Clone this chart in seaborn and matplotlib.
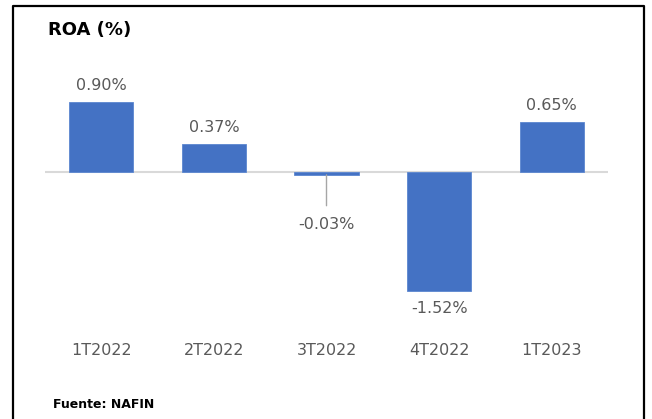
import matplotlib
matplotlib.use("Agg")
import matplotlib.pyplot as plt
from matplotlib.lines import Line2D
import seaborn as sns
import pandas as pd

categories = ["1T2022", "2T2022", "3T2022", "4T2022", "1T2023"]
roa_values = [0.90, 0.37, -0.03, -1.52, 0.65]
value_labels = ["0.90%", "0.37%", "-0.03%", "-1.52%", "0.65%"]
title_text = "ROA (%)"
source_text = "Fuente: NAFIN"

sns.set_theme(style="white")
plt.rcParams["font.family"] = ["DejaVu Sans"]

W, H = 652, 419
fig = plt.figure(figsize=(W / 100, H / 100), dpi=100)
fig.patch.set_facecolor("white")

ax = fig.add_axes([45 / W, 1 - 335 / H, (608 - 45) / W, (335 - 60) / H])

df = pd.DataFrame({"cat": categories, "val": roa_values})
sns.barplot(data=df, x="cat", y="val", color="#4472C4", saturation=1,
            width=0.57, ax=ax, edgecolor="#5b86d0", linewidth=0.6)

ax.set_ylim(-2.089, 1.446)
ax.set_xlim(-0.5, len(categories) - 0.5)
ax.axhline(0, color="#d9d9d9", lw=1.5, zorder=0)

for s in ax.spines.values():
    s.set_visible(False)
ax.set_yticks([])
ax.set_xlabel("")
ax.set_ylabel("")
ax.tick_params(axis="x", length=0, pad=6, labelsize=11.5, labelcolor="#595959")

lab_color = "#595959"
for i, (v, lab) in enumerate(zip(roa_values, value_labels)):
    if abs(v) < 0.1:
        ax.annotate(lab, xy=(i, v), xytext=(0, -36), textcoords="offset points",
                    ha="center", va="center", fontsize=11.5, color=lab_color,
                    arrowprops=dict(arrowstyle="-", color="#a6a6a6", lw=1,
                                    shrinkA=6, shrinkB=0))
    elif v >= 0:
        ax.annotate(lab, xy=(i, v), xytext=(0, 12), textcoords="offset points",
                    ha="center", va="center", fontsize=11.5, color=lab_color)
    else:
        ax.annotate(lab, xy=(i, v), xytext=(0, -12.5), textcoords="offset points",
                    ha="center", va="center", fontsize=11.5, color=lab_color)

fig.text(48 / W, 1 - 30 / H, title_text, fontsize=13, fontweight="bold",
         color="black", ha="left", va="center")
fig.text(53 / W, 1 - 404 / H, source_text, fontsize=9, fontweight="bold",
         color="black", ha="left", va="center")

# outer frame (top, left, right)
lx, rx, ty = 13 / W, 644 / W, 1 - 6 / H
fig.add_artist(Line2D([lx, lx, rx, rx], [-0.02, ty, ty, -0.02],
                      transform=fig.transFigure, color="black", lw=1.6))

fig.savefig("out.png", dpi=100)
